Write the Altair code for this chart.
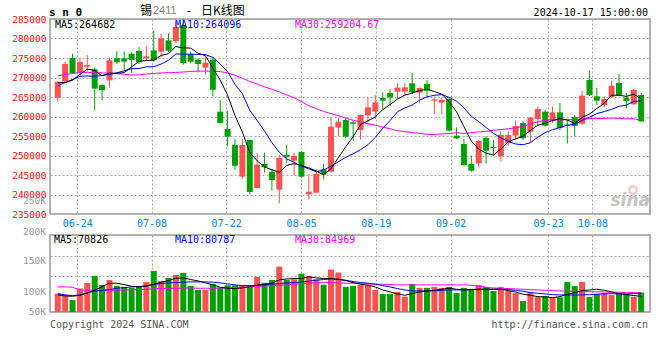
import altair as alt
import pandas as pd

# ---------------- data ----------------
opens = [264800, 269000, 275000, 271240, 272780, 272090, 268080, 269270, 274910, 274910,
         276110, 276800, 274910, 276970, 276620, 279530, 279360, 283400, 276030, 274570,
         272520, 274570, 261240, 256800, 252690, 244570, 253970, 241670, 247820, 245770,
         241240, 250130, 248680, 250900, 240040, 240470, 246450, 245860, 257140, 259100,
         258500, 256540, 260300, 261240, 264740, 266030, 266370, 266370, 268500, 266110,
         268330, 264060, 263550, 264490, 255090, 252950, 247820, 247990, 254490, 252200,
         249790, 253210, 255090, 258330, 256110, 259360, 261240, 258930, 261070, 257950,
         259870, 258160, 269360, 265170, 262950, 264920, 268590, 264830, 263120, 265510]
highs = [269000, 274100, 276100, 275090, 275770, 272520, 268300, 275090, 276710, 276710,
         276450, 277820, 278080, 282090, 281240, 281330, 284150, 285000, 276620, 274910,
         275430, 275090, 264230, 261500, 254230, 254230, 254060, 250560, 250640, 246540,
         250210, 252690, 250640, 251070, 245260, 246540, 247820, 259790, 259620, 259530,
         258930, 260560, 264920, 265510, 266200, 267050, 268500, 268500, 271150, 267480,
         269360, 265170, 264920, 264740, 257220, 254230, 249960, 253970, 255000, 253970,
         256110, 256110, 258930, 258930, 259870, 262610, 261750, 262610, 263460, 259100,
         260390, 266620, 271750, 267310, 265170, 269190, 270900, 266030, 267050, 266030]
lows = [263800, 268600, 270900, 270130, 271500, 261670, 264150, 267390, 273460, 271580,
        271150, 273460, 274400, 274060, 275090, 276450, 278850, 273290, 273630, 271330,
        270810, 265170, 258300, 252350, 246370, 244060, 240040, 241600, 245680, 240980,
        237740, 248080, 244920, 244320, 238680, 240400, 243890, 245680, 254920, 254400,
        253720, 254060, 257650, 259360, 261920, 262610, 264490, 265340, 265770, 263380,
        265170, 260640, 260640, 256200, 254230, 247310, 245860, 247140, 247990, 249960,
        248420, 252520, 254060, 254060, 253210, 257820, 257390, 258330, 256450, 253030,
        254920, 257820, 265260, 262950, 262350, 264740, 265170, 262090, 262950, 258590]
closes = [268900, 273500, 271150, 273970, 273200, 267140, 266800, 274400, 273890, 274060,
          274490, 273890, 275430, 274400, 280040, 276880, 282950, 273720, 274060, 273460,
          273800, 266880, 258330, 254830, 247390, 252690, 240640, 247650, 246970, 243720,
          249360, 249620, 249870, 244570, 240730, 245260, 245090, 257390, 258680, 254830,
          258150, 260390, 262350, 263630, 264060, 264920, 267390, 267480, 266200, 267310,
          266620, 264400, 264230, 256370, 254400, 247560, 246110, 253720, 251240, 251900,
          255260, 255260, 257560, 254400, 259700, 261920, 257650, 261070, 257050, 257650,
          257560, 265340, 265510, 264060, 264490, 267910, 265340, 263970, 266800, 258760]
volumes = [81500, 74000, 53000, 104000, 129000, 160000, 120000, 142000, 115500, 111000,
           107000, 112500, 133000, 182000, 138000, 151000, 164000, 173000, 115500, 98000,
           98000, 124000, 107000, 118500, 118500, 118500, 111000, 155500, 129000, 142000,
           201000, 142000, 145000, 170000, 160000, 145000, 121000, 188000, 175000, 111000,
           115500, 120000, 118500, 98000, 80000, 80000, 89000, 68000, 124000, 107000,
           107000, 111000, 107000, 111000, 84000, 107000, 98000, 120000, 111000, 93000,
           111000, 93000, 84000, 49000, 84000, 67000, 71000, 65000, 65000, 133000,
           115500, 133000, 67000, 80000, 84000, 75500, 84000, 80000, 67000, 86000]
ma5 = [268700, 268700, 269300, 270800, 272144, 271792, 270452, 271102, 271086, 271258,
       272728, 274146, 274352, 274454, 275650, 276128, 277940, 277598, 277530, 276214,
       275598, 272384, 269306, 265460, 260246, 256024, 250776, 248640, 247068, 246334,
       245668, 247464, 247908, 247428, 246830, 246010, 245104, 246608, 249430, 252250,
       254848, 257908, 258900, 259890, 261736, 263070, 264470, 265496, 266010, 266660,
       267000, 266402, 265752, 263786, 261204, 257392, 253734, 251632, 250606, 250128,
       251668, 253498, 254266, 254898, 256436, 257768, 258246, 258948, 259478, 259086,
       258214, 259752, 260640, 262042, 263392, 265462, 265462, 265154, 265702, 264556]
ma10 = [267900, 268700, 269500, 270300, 270400, 270300, 270500, 270800, 271200, 271701,
        272260, 272299, 272727, 272770, 273454, 274428, 276043, 275975, 275992, 275932,
        275863, 275162, 273452, 271495, 268230, 265811, 261580, 258973, 256264, 253290,
        250846, 249120, 248274, 247248, 246582, 245839, 246284, 247258, 248429, 249540,
        250429, 251506, 252754, 254660, 256993, 258959, 261189, 262198, 262950, 264198,
        265035, 265436, 265624, 264898, 263932, 262196, 260068, 258692, 257196, 255666,
        254530, 253616, 252949, 252752, 253282, 254718, 255872, 256607, 257188, 257761,
        257991, 258999, 259794, 260760, 261239, 261838, 262607, 262897, 263872, 263974]
ma30 = [270400, 270800, 271000, 271300, 271300, 271250, 271200, 271100, 271000, 270800,
        270650, 270700, 270900, 271050, 271150, 271250, 271300, 271400, 271550, 271650,
        271650, 271600, 271500, 271200, 270600, 269800, 269000, 268300, 267600, 266974,
        266323, 265527, 264818, 263838, 262755, 262026, 261302, 260735, 260228, 259587,
        259046, 258596, 258160, 257801, 257268, 256870, 256351, 256143, 255881, 255676,
        255437, 255354, 255551, 255602, 255836, 255665, 255847, 256049, 256192, 256468,
        256665, 256853, 257109, 257437, 258069, 258624, 259043, 259166, 259111, 259208,
        259185, 259350, 259456, 259470, 259484, 259584, 259516, 259399, 259419, 259134]
vol_ma5 = [75500, 71100, 69600, 74100, 84400, 96300, 112600, 127400, 127400, 121400,
           114000, 111100, 115500, 122900, 131800, 139200, 149600, 151100, 143700, 137700,
           128800, 120000, 109600, 105200, 103700, 106600, 112600, 118500, 122900, 127400,
           142200, 146600, 148100, 148100, 155500, 151100, 148100, 148100, 145100, 139200,
           130300, 122900, 118500, 111100, 97700, 88900, 80000, 74100, 81500, 88900,
           93300, 96300, 100700, 105200, 100700, 97700, 99200, 100700, 100700, 100700,
           100700, 94800, 88900, 78500, 74100, 68100, 66600, 63700, 68100, 78500,
           85900, 94800, 97700, 100700, 96300, 88900, 81500, 77000, 72600, 69600]
vol_ma10 = [81500, 75500, 72600, 75500, 84400, 93300, 94800, 99200, 105200, 108100,
            111100, 112600, 115500, 121400, 125900, 128800, 130300, 131800, 133300, 133300,
            133300, 131800, 128800, 124400, 120000, 117000, 117000, 118500, 120000, 122900,
            125900, 128800, 130300, 133300, 136300, 140700, 143700, 146600, 143700, 140700,
            134800, 130300, 127400, 122900, 117000, 111100, 103700, 97700, 93300, 93300,
            93300, 93300, 96300, 97700, 97700, 97700, 99200, 100700, 100700, 100700,
            100700, 99200, 96300, 91800, 85900, 82900, 80000, 77000, 75500, 75500,
            75500, 75500, 77000, 78500, 80000, 81500, 80000, 80000, 81500, 81500]
vol_ma30 = [111100, 111100, 109600, 97700, 96300, 96300, 96300, 96300, 96300, 97700,
            97700, 99200, 100700, 102200, 103700, 105200, 105200, 106600, 106600, 105200,
            105200, 105200, 106600, 106600, 108100, 109600, 111100, 114000, 115500, 117000,
            118500, 120000, 122900, 125900, 127400, 128800, 130300, 130300, 128800, 127400,
            127400, 125900, 124400, 122900, 122900, 121400, 120000, 120000, 120000, 120000,
            120000, 120000, 120000, 120000, 120000, 120000, 118500, 114000, 109600, 106600,
            103700, 103700, 102200, 100700, 99200, 97700, 96300, 94800, 93300, 91800,
            91800, 90300, 90300, 88900, 88900, 87400, 87400, 85900, 85900, 85900]

date_labels = ["06-24", "07-08", "07-22", "08-05", "08-19", "09-02", "09-23", "10-08"]
price_ticks = [235000, 240000, 245000, 250000, 255000, 260000, 265000, 270000, 275000, 280000, 285000]
vol_tick_labels = ["250K", "200K", "150K", "100K", "50K"]
price_legend = ["MA5:264682", "MA10:264096", "MA30:259204.67"]
vol_legend = ["MA5:70826", "MA10:80787", "MA30:84969"]
title_parts = ["锡", "2411", "-", "日K线图"]
symbol_text = "s n 0"
stamp_text = "2024-10-17 15:00:00"
footer_left = "Copyright 2024 SINA.COM"
footer_right = "http://finance.sina.com.cn"
watermark = "sina"

# ---------------- positions / styles (not data) ----------------
date_pos = [2.65, 12.7, 22.8, 32.96, 43.07, 53.2, 66.4, 72.4]
vol_label_pos = [493300, 355600, 226700, 88900, 0]
vol_grid = [158700, 245800]

RED = "#ff5353"
GREEN = "#00a000"
GRID = "#a8a8a8"
MONO = "DejaVu Sans Mono"
W, HP, HV = 600, 195, 77

n = len(closes)
df = pd.DataFrame({
    "i": list(range(n)), "open": opens, "high": highs, "low": lows, "close": closes,
    "volume": volumes, "ma5": ma5, "ma10": ma10, "ma30": ma30,
    "vma5": vol_ma5, "vma10": vol_ma10, "vma30": vol_ma30,
})

xs = alt.Scale(domain=[-0.373, 79.52], nice=False, zero=False)
ys = alt.Scale(domain=[235000, 285000], nice=False, zero=False)
vs = alt.Scale(domain=[0, 341000], nice=False, zero=False)

updown = alt.condition("datum.close >= datum.open", alt.value(RED), alt.value(GREEN))

label_expr = ("[" + ",".join("'%s'" % d for d in date_labels) + "][indexof(["
              + ",".join(str(p) for p in date_pos) + "], datum.value)]")

x_axis_price = alt.Axis(values=date_pos, labelExpr=label_expr, grid=True, gridColor=GRID,
                        gridDash=[2, 2], ticks=False, domain=False, labelColor="#0d7fd8",
                        labelFont=MONO, labelFontSize=10, labelPadding=4, labelOverlap=False,
                        labelFlush=False, labelBound=False, title=None)
y_axis_price = alt.Axis(values=price_ticks, grid=True, gridColor=GRID, gridDash=[2, 2],
                        ticks=False, domain=False, labelColor="#ee1111", labelFont=MONO,
                        labelFontSize=9.5, labelPadding=4, labelFlush=False,
                        labelOverlap=False, format="d", title=None)
x_axis_vol = alt.Axis(values=date_pos, grid=True, gridColor=GRID, gridDash=[2, 2],
                      labels=False, ticks=False, domain=False, title=None)
y_axis_vol = alt.Axis(values=vol_grid, grid=True, gridColor=GRID, gridDash=[2, 2],
                      labels=False, ticks=False, domain=False, title=None)

base = alt.Chart(df)


def XP():
    return alt.X("i:Q", scale=xs, axis=x_axis_price)


def XV():
    return alt.X("i:Q", scale=xs, axis=x_axis_vol)


def YP(field):
    return alt.Y(field, type="quantitative", scale=ys, axis=y_axis_price)


def YV(field):
    return alt.Y(field, type="quantitative", scale=vs, axis=y_axis_vol)


def note(text, x, y, color="black", size=10, font=MONO, align="left", weight="normal", style="normal"):
    return alt.Chart(pd.DataFrame({"t": [text]})).mark_text(
        align=align, baseline="middle", font=font, fontSize=size, color=color,
        fontWeight=weight, fontStyle=style
    ).encode(x=alt.value(x), y=alt.value(y), text="t:N")


wick = base.mark_rule(strokeWidth=1, clip=True).encode(
    x=XP(), y=YP("low"), y2="high:Q", color=updown)
body = base.mark_bar(size=6, clip=True).encode(
    x=XP(), y=YP("open"), y2="close:Q", color=updown)
l5 = base.mark_line(color="#000000", strokeWidth=1, clip=True).encode(x=XP(), y=YP("ma5"))
l10 = base.mark_line(color="#0000ff", strokeWidth=1, clip=True).encode(x=XP(), y=YP("ma10"))
l30 = base.mark_line(color="#ff00ff", strokeWidth=1, clip=True).encode(x=XP(), y=YP("ma30"))

logo = alt.Chart(pd.DataFrame({"a": [0]})).mark_point(
    shape="circle", size=60, filled=False, strokeWidth=2.5, color="#f0b4b4"
).encode(x=alt.value(583), y=alt.value(171))

price = alt.layer(
    wick, body, l30, l10, l5,
    note(price_legend[0], 5, 6, "#000000"),
    note(price_legend[1], 125, 6, "#0000ff"),
    note(price_legend[2], 245, 6, "#ff00ff"),
    note(symbol_text, -1, -6, "#000000", size=11, weight="bold"),
    note(title_parts[0], 90, -8, "#000000", size=12, font="Noto Sans CJK SC"),
    note(title_parts[1], 103, -8, "#808080", size=11, font="Liberation Sans"),
    note(title_parts[2], 137, -8, "#000000", size=12, font="Noto Sans CJK SC"),
    note(title_parts[3], 151, -8, "#000000", size=12, font="Noto Sans CJK SC"),
    note(stamp_text, 598, -6, "#000000", align="right"),
    logo,
    note(watermark, 600, 182, "#c4c4c4", size=17, font="DejaVu Sans", align="right",
         weight="bold", style="italic"),
).properties(width=W, height=HP)

vbar = base.mark_bar(size=6, clip=True).encode(x=XV(), y=YV("volume"), color=updown)
v5 = base.mark_line(color="#000000", strokeWidth=1, clip=True).encode(x=XV(), y=YV("vma5"))
v10 = base.mark_line(color="#0000ff", strokeWidth=1, clip=True).encode(x=XV(), y=YV("vma10"))
v30 = base.mark_line(color="#ff00ff", strokeWidth=1, clip=True).encode(x=XV(), y=YV("vma30"))
vlabels = alt.Chart(pd.DataFrame({"t": vol_tick_labels, "v": vol_label_pos})).mark_text(
    align="right", baseline="middle", font=MONO, fontSize=9.5, color="#999999", dx=-4
).encode(x=alt.value(0), y=YV("v"), text="t:N")

vol = alt.layer(
    vbar, v30, v10, v5, vlabels,
    note(vol_legend[0], 4, 5, "#000000"),
    note(vol_legend[1], 125, 5, "#0000ff"),
    note(vol_legend[2], 245, 5, "#ff00ff"),
    note(footer_left, 0, 90, "#555555"),
    note(footer_right, 598, 90, "#555555", align="right"),
).properties(width=W, height=HV)

chart = alt.vconcat(price, vol, spacing=21, bounds="flush").properties(
    padding={"left": 10, "top": 4, "right": 5, "bottom": 5},
    background="white",
).configure_view(stroke="#999999", strokeWidth=1.5)

chart.save("out.html", embed_options={"renderer": "svg", "actions": False})
